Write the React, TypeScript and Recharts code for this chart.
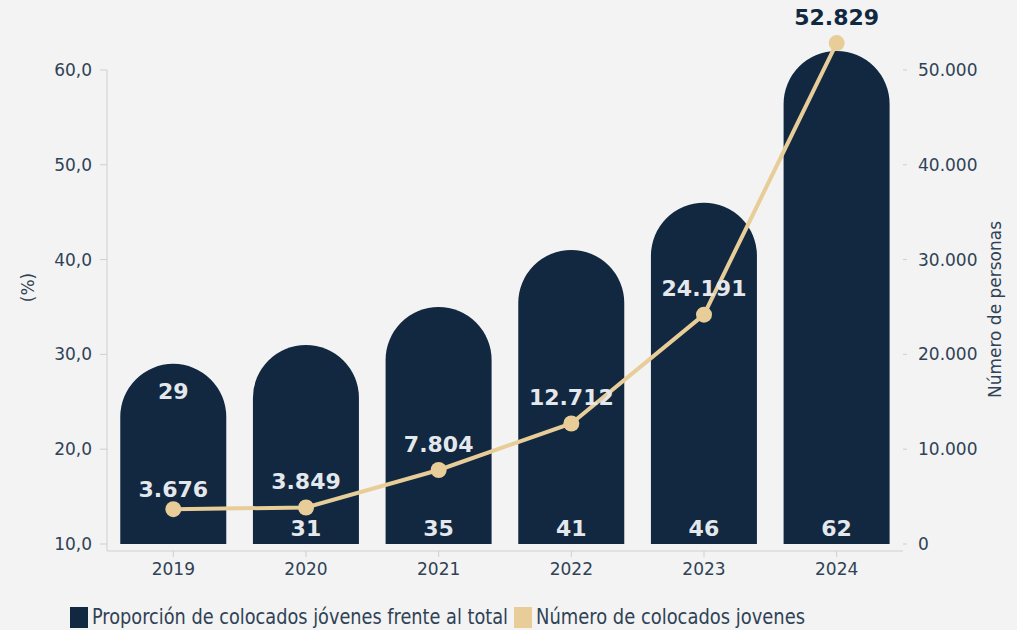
import React from 'react';
import { ComposedChart, Bar, Line, XAxis, YAxis, LabelList, Legend, Label, ReferenceLine } from 'recharts';

const years = ['2019', '2020', '2021', '2022', '2023', '2024'];
const proportion = [29, 31, 35, 41, 46, 62];
const placed = [3676, 3849, 7804, 12712, 24191, 52829];
const leftTicks = [10, 20, 30, 40, 50, 60];
const rightTicks = [0, 10000, 20000, 30000, 40000, 50000];
const seriesNames = ['Proporción de colocados jóvenes frente al total', 'Número de colocados jovenes'];
const leftTitle = '(%)';
const rightTitle = 'Número de personas';

const data = years.map((y, i) => ({ year: y, proportion: proportion[i], placed: placed[i] }));

const NAVY = '#112840';
const BEIGE = '#e8cd98';
const TEXT = '#2f4256';
const LIGHT = '#e4e8ed';
const AXIS = '#cfcfcf';
const FONT = '"DejaVu Sans", sans-serif';

const thousands = (v: number) => String(Math.round(v)).replace(/\B(?=(\d{3})+(?!\d))/g, '.');
const pct = (v: number) => v.toFixed(1).replace('.', ',');

const BarValueLabel = (props: any) => {
  const { x, y, width, height, index, value } = props;
  const cx = Number(x) + Number(width) / 2;
  const cy = index === 0 ? Number(y) + 28 : Number(y) + Number(height) - 16;
  return (
    <text x={cx} y={cy} textAnchor="middle" dominantBaseline="central" fill={LIGHT}
      fontSize={22} fontWeight="bold" fontFamily={FONT}>{value}</text>
  );
};

const LineValueLabel = (props: any) => {
  const { x, y, index, value } = props;
  const last = index === placed.length - 1;
  const off = index === 0 ? 20 : 26;
  return (
    <text x={x} y={Number(y) - off} textAnchor="middle" dominantBaseline="central"
      fill={last ? NAVY : LIGHT} fontSize={22} fontWeight="bold" fontFamily={FONT}>{thousands(value)}</text>
  );
};

const LeftTitle = (props: any) => {
  const vb = props.viewBox;
  const cx = vb.x + 8;
  const cy = vb.y + vb.height / 2 - 4;
  return (
    <text x={cx} y={cy} transform={`rotate(-90 ${cx} ${cy})`} textAnchor="middle" dominantBaseline="central"
      fill={TEXT} fontSize={17} fontFamily={FONT}>{leftTitle}</text>
  );
};

const RightTitle = (props: any) => {
  const vb = props.viewBox;
  const cx = vb.x + 92;
  const cy = vb.y + vb.height / 2 + 18;
  return (
    <text x={cx} y={cy} transform={`rotate(-90 ${cx} ${cy})`} textAnchor="middle" dominantBaseline="central"
      fill={TEXT} fontSize={17} fontFamily={FONT}>{rightTitle}</text>
  );
};

const SX = 0.7;
const LegendContent = () => (
  <svg width={1017} height={30} style={{ display: 'block' }}>
    <rect x={70} y={7} width={18} height={21} fill={NAVY} />
    <g transform={`translate(92 24) scale(${SX} 1)`}>
      <text x={0} y={0} fontSize={21} textLength={416 / SX} lengthAdjust="spacingAndGlyphs" fill={TEXT} fontFamily={FONT}>{seriesNames[0]}</text>
    </g>
    <rect x={514} y={7} width={18} height={21} fill={BEIGE} />
    <g transform={`translate(536 24) scale(${SX} 1)`}>
      <text x={0} y={0} fontSize={21} textLength={269 / SX} lengthAdjust="spacingAndGlyphs" fill={TEXT} fontFamily={FONT}>{seriesNames[1]}</text>
    </g>
  </svg>
);

export default function App() {
  const tickStyle = { fill: TEXT, fontSize: 17, fontFamily: FONT };
  return (
    <div style={{ position: 'absolute', left: 0, top: 0, width: 1017, height: 630, background: '#f3f3f3' }}>
      <ComposedChart width={1017} height={630} data={data} margin={{ top: 32, right: 20, bottom: 0, left: 20 }}
        barCategoryGap="10%">
        <XAxis dataKey="year" height={49} tick={tickStyle} tickSize={6} tickMargin={6}
          axisLine={{ stroke: AXIS }} tickLine={{ stroke: AXIS }} />
        <XAxis xAxisId="edge" type="number" domain={[0, 6]} allowDataOverflow hide />
        <YAxis yAxisId="left" width={87} domain={[10, 64]} ticks={leftTicks} interval={0}
          tickFormatter={pct} tick={tickStyle} tickSize={7} tickMargin={8} padding={{ bottom: 7 }}
          axisLine={false} tickLine={{ stroke: AXIS }}>
          <Label content={<LeftTitle />} />
        </YAxis>
        <YAxis yAxisId="right" orientation="right" width={94} domain={[0, 54000]} ticks={rightTicks} interval={0}
          tickFormatter={thousands} tick={tickStyle} tickSize={4} tickMargin={11} padding={{ bottom: 7 }}
          axisLine={false} tickLine={{ stroke: AXIS }}>
          <Label content={<RightTitle />} />
        </YAxis>
        <ReferenceLine xAxisId="edge" yAxisId="left" ifOverflow="visible" stroke={AXIS}
          segment={[{ x: 0, y: 60 }, { x: 0, y: 9.26 }]} />
        <ReferenceLine xAxisId="edge" yAxisId="left" ifOverflow="visible" stroke={AXIS}
          segment={[{ x: 6, y: 60 }, { x: 6, y: 9.26 }]} />
        <Legend verticalAlign="bottom" align="left" content={<LegendContent />}
          wrapperStyle={{ left: 0, bottom: 0, width: 1017, height: 30 }} />
        <Bar yAxisId="left" dataKey="proportion" name={seriesNames[0]} fill={NAVY}
          radius={[53, 53, 0, 0]} isAnimationActive={false}>
          <LabelList dataKey="proportion" content={<BarValueLabel />} />
        </Bar>
        <Line yAxisId="right" dataKey="placed" name={seriesNames[1]} type="linear" stroke={BEIGE} strokeWidth={4}
          dot={{ r: 8, fill: BEIGE, stroke: 'none' }} isAnimationActive={false}>
          <LabelList dataKey="placed" content={<LineValueLabel />} />
        </Line>
      </ComposedChart>
    </div>
  );
}
